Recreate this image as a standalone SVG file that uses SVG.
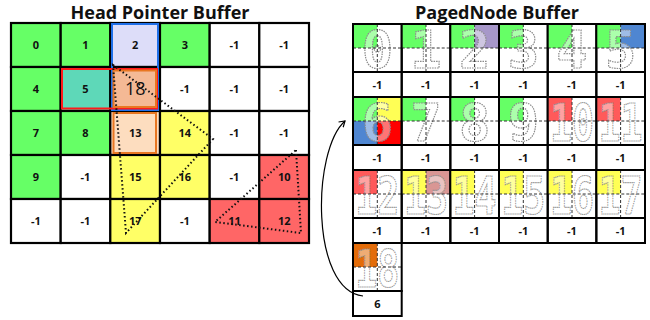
<svg xmlns="http://www.w3.org/2000/svg" width="650" height="320" viewBox="0 0 650 320">
<style>
.title{font-family:"Open Sans","Liberation Sans",sans-serif;font-weight:700;font-size:17px;text-anchor:middle;fill:#111}
.c{stroke:#000;stroke-width:2.2}
.n{font-family:"Open Sans","Liberation Sans",sans-serif;font-weight:700;font-size:11px;text-anchor:middle;fill:#111}
.n18{font-family:"Open Sans","Liberation Sans",sans-serif;font-size:18px;text-anchor:middle;fill:#111}
.w{fill:#fff}.g{fill:#66FF66}.y{fill:#FFFF66}.r{fill:#FF6666}
.big{font-family:"DejaVu Sans Mono","Liberation Mono",monospace;font-weight:700;font-size:52px;text-anchor:middle;fill:#fff;fill-opacity:0.45;stroke:#8c8c8c;stroke-width:1.2;stroke-dasharray:1.5 1}
.dash{fill:none;stroke:#333;stroke-width:1;stroke-dasharray:3 2}
.cell{fill:none;stroke:#000;stroke-width:2}
.dot{fill:none;stroke:#111;stroke-width:2;stroke-dasharray:1.5 2.5}
</style>
<defs>
<marker id="arr" markerUnits="userSpaceOnUse" markerWidth="10" markerHeight="10" refX="6" refY="4" orient="auto"><path d="M0.5,0.5 L6,4 L0.5,7.5" fill="none" stroke="#000" stroke-width="1.2"/></marker>
</defs>
<text class="title" x="160" y="19" textLength="179" lengthAdjust="spacingAndGlyphs">Head Pointer Buffer</text>
<text class="title" x="497" y="19" textLength="164" lengthAdjust="spacingAndGlyphs">PagedNode Buffer</text>

<g id="hp">
<g id="h0"><rect class="c g" x="11" y="23" width="49.7" height="44"/><text class="n" x="35.8" y="49">0</text></g>
<g id="h1"><rect class="c g" x="60.7" y="23" width="49.7" height="44"/><text class="n" x="85.5" y="49">1</text></g>
<g id="h2"><rect class="c" fill="#DDDDF9" x="110.3" y="23" width="49.7" height="44"/><text class="n" x="135.2" y="49">2</text></g>
<g id="h3"><rect class="c g" x="160" y="23" width="49.7" height="44"/><text class="n" x="184.8" y="49">3</text></g>
<g id="h4"><rect class="c w" x="209.7" y="23" width="49.7" height="44"/><text class="n" x="234.5" y="49">-1</text></g>
<g id="h5"><rect class="c w" x="259.3" y="23" width="49.7" height="44"/><text class="n" x="284.2" y="49">-1</text></g>

<g id="h6"><rect class="c g" x="11" y="67" width="49.7" height="44"/><text class="n" x="35.8" y="93">4</text></g>
<g id="h7"><rect class="c" fill="#5ED8B8" x="60.7" y="67" width="49.7" height="44"/><text class="n" x="85.5" y="93">5</text></g>
<g id="h8"><rect class="c" fill="#F4B995" x="110.3" y="67" width="49.7" height="44"/><text class="n18" x="135.2" y="95">18</text></g>
<g id="h9"><rect class="c w" x="160" y="67" width="49.7" height="44"/><text class="n" x="184.8" y="93">-1</text></g>
<g id="h10"><rect class="c w" x="209.7" y="67" width="49.7" height="44"/><text class="n" x="234.5" y="93">-1</text></g>
<g id="h11"><rect class="c w" x="259.3" y="67" width="49.7" height="44"/><text class="n" x="284.2" y="93">-1</text></g>

<g id="h12"><rect class="c g" x="11" y="111" width="49.7" height="44"/><text class="n" x="35.8" y="137">7</text></g>
<g id="h13"><rect class="c g" x="60.7" y="111" width="49.7" height="44"/><text class="n" x="85.5" y="137">8</text></g>
<g id="h14"><rect class="c" fill="#FDDDBF" x="110.3" y="111" width="49.7" height="44"/><text class="n" x="135.2" y="137">13</text></g>
<g id="h15"><rect class="c y" x="160" y="111" width="49.7" height="44"/><text class="n" x="184.8" y="137">14</text></g>
<g id="h16"><rect class="c w" x="209.7" y="111" width="49.7" height="44"/><text class="n" x="234.5" y="137">-1</text></g>
<g id="h17"><rect class="c w" x="259.3" y="111" width="49.7" height="44"/><text class="n" x="284.2" y="137">-1</text></g>

<g id="h18"><rect class="c g" x="11" y="155" width="49.7" height="44"/><text class="n" x="35.8" y="181">9</text></g>
<g id="h19"><rect class="c w" x="60.7" y="155" width="49.7" height="44"/><text class="n" x="85.5" y="181">-1</text></g>
<g id="h20"><rect class="c y" x="110.3" y="155" width="49.7" height="44"/><text class="n" x="135.2" y="181">15</text></g>
<g id="h21"><rect class="c y" x="160" y="155" width="49.7" height="44"/><text class="n" x="184.8" y="181">16</text></g>
<g id="h22"><rect class="c w" x="209.7" y="155" width="49.7" height="44"/><text class="n" x="234.5" y="181">-1</text></g>
<g id="h23"><rect class="c r" x="259.3" y="155" width="49.7" height="44"/><text class="n" x="284.2" y="181">10</text></g>

<g id="h24"><rect class="c w" x="11" y="199" width="49.7" height="44"/><text class="n" x="35.8" y="225">-1</text></g>
<g id="h25"><rect class="c w" x="60.7" y="199" width="49.7" height="44"/><text class="n" x="85.5" y="225">-1</text></g>
<g id="h26"><rect class="c y" x="110.3" y="199" width="49.7" height="44"/><text class="n" x="135.2" y="225">17</text></g>
<g id="h27"><rect class="c w" x="160" y="199" width="49.7" height="44"/><text class="n" x="184.8" y="225">-1</text></g>
<g id="h28"><rect class="c r" x="209.7" y="199" width="49.7" height="44"/><text class="n" x="234.5" y="225">11</text></g>
<g id="h29"><rect class="c r" x="259.3" y="199" width="49.7" height="44"/><text class="n" x="284.2" y="225">12</text></g>
</g>

<g id="highlights" fill="none">
<rect x="112" y="24" width="46" height="86" stroke="#1F6FE8" stroke-width="2"/>
<rect x="62" y="69" width="95" height="39.5" stroke="#FF1A1A" stroke-width="2"/>
<rect x="113.5" y="70.5" width="42.5" height="36.5" stroke="#E87722" stroke-width="2"/>
<rect x="113.5" y="113" width="42.5" height="40" stroke="#E87722" stroke-width="2"/>
</g>

<g id="triangles">
<polygon class="dot" points="113,65 213,139 126,233"/>
<polygon class="dot" points="296,150 301,233 215,222"/>
</g>

<g id="pn">
<g id="p0" transform="translate(353,24)"><rect class="g" width="24.3" height="24"/><text class="big" x="24.3" y="44">0</text><path class="dash" d="M24.3 0V48M0 24H48.7"/><rect class="cell" width="48.7" height="48"/><rect class="cell w" y="48" width="48.7" height="25"/><text class="n" x="24.3" y="64.5">-1</text></g>
<g id="p1" transform="translate(401.7,24)"><rect class="g" width="24.3" height="24"/><text class="big" x="24.3" y="44">1</text><path class="dash" d="M24.3 0V48M0 24H48.7"/><rect class="cell" width="48.7" height="48"/><rect class="cell w" y="48" width="48.7" height="25"/><text class="n" x="24.3" y="64.5">-1</text></g>
<g id="p2" transform="translate(450.3,24)"><rect class="g" width="24.3" height="24"/><rect fill="#A797C9" x="24.3" width="24.3" height="24"/><text class="big" x="24.3" y="44">2</text><path class="dash" d="M24.3 0V48M0 24H48.7"/><rect class="cell" width="48.7" height="48"/><rect class="cell w" y="48" width="48.7" height="25"/><text class="n" x="24.3" y="64.5">-1</text></g>
<g id="p3" transform="translate(499,24)"><rect class="g" width="24.3" height="24"/><text class="big" x="24.3" y="44">3</text><path class="dash" d="M24.3 0V48M0 24H48.7"/><rect class="cell" width="48.7" height="48"/><rect class="cell w" y="48" width="48.7" height="25"/><text class="n" x="24.3" y="64.5">-1</text></g>
<g id="p4" transform="translate(547.7,24)"><rect class="g" width="24.3" height="24"/><text class="big" x="24.3" y="44">4</text><path class="dash" d="M24.3 0V48M0 24H48.7"/><rect class="cell" width="48.7" height="48"/><rect class="cell w" y="48" width="48.7" height="25"/><text class="n" x="24.3" y="64.5">-1</text></g>
<g id="p5" transform="translate(596.3,24)"><rect class="g" width="24.3" height="24"/><rect fill="#4F86D1" x="24.3" width="24.3" height="24"/><text class="big" x="24.3" y="44">5</text><path class="dash" d="M24.3 0V48M0 24H48.7"/><rect class="cell" width="48.7" height="48"/><rect class="cell w" y="48" width="48.7" height="25"/><text class="n" x="24.3" y="64.5">-1</text></g>

<g id="p6" transform="translate(353,97)"><rect class="g" width="24.3" height="24"/><rect fill="#FFFF55" x="24.3" width="24.3" height="24"/><rect fill="#4F86D1" y="24" width="24.3" height="24"/><rect fill="#FF0000" x="24.3" y="24" width="24.3" height="24"/><text class="big" x="24.3" y="44">6</text><path class="dash" d="M24.3 0V48M0 24H48.7"/><rect class="cell" width="48.7" height="48"/><rect class="cell w" y="48" width="48.7" height="25"/><text class="n" x="24.3" y="64.5">-1</text></g>
<g id="p7" transform="translate(401.7,97)"><rect class="g" width="24.3" height="24"/><text class="big" x="24.3" y="44">7</text><path class="dash" d="M24.3 0V48M0 24H48.7"/><rect class="cell" width="48.7" height="48"/><rect class="cell w" y="48" width="48.7" height="25"/><text class="n" x="24.3" y="64.5">-1</text></g>
<g id="p8" transform="translate(450.3,97)"><rect class="g" width="24.3" height="24"/><text class="big" x="24.3" y="44">8</text><path class="dash" d="M24.3 0V48M0 24H48.7"/><rect class="cell" width="48.7" height="48"/><rect class="cell w" y="48" width="48.7" height="25"/><text class="n" x="24.3" y="64.5">-1</text></g>
<g id="p9" transform="translate(499,97)"><rect class="g" width="24.3" height="24"/><text class="big" x="24.3" y="44">9</text><path class="dash" d="M24.3 0V48M0 24H48.7"/><rect class="cell" width="48.7" height="48"/><rect class="cell w" y="48" width="48.7" height="25"/><text class="n" x="24.3" y="64.5">-1</text></g>
<g id="p10" transform="translate(547.7,97)"><rect fill="#FF5A5A" width="24.3" height="24"/><text class="big" x="24.3" y="44" textLength="44" lengthAdjust="spacingAndGlyphs">10</text><path class="dash" d="M24.3 0V48M0 24H48.7"/><rect class="cell" width="48.7" height="48"/><rect class="cell w" y="48" width="48.7" height="25"/><text class="n" x="24.3" y="64.5">-1</text></g>
<g id="p11" transform="translate(596.3,97)"><rect fill="#FF5A5A" width="24.3" height="24"/><text class="big" x="24.3" y="44" textLength="44" lengthAdjust="spacingAndGlyphs">11</text><path class="dash" d="M24.3 0V48M0 24H48.7"/><rect class="cell" width="48.7" height="48"/><rect class="cell w" y="48" width="48.7" height="25"/><text class="n" x="24.3" y="64.5">-1</text></g>

<g id="p12" transform="translate(353,170)"><rect fill="#FF5A5A" width="24.3" height="24"/><text class="big" x="24.3" y="44" textLength="44" lengthAdjust="spacingAndGlyphs">12</text><path class="dash" d="M24.3 0V48M0 24H48.7"/><rect class="cell" width="48.7" height="48"/><rect class="cell w" y="48" width="48.7" height="25"/><text class="n" x="24.3" y="64.5">-1</text></g>
<g id="p13" transform="translate(401.7,170)"><rect fill="#FFFF55" width="24.3" height="24"/><rect fill="#D99694" x="24.3" width="24.3" height="24"/><text class="big" x="24.3" y="44" textLength="44" lengthAdjust="spacingAndGlyphs">13</text><path class="dash" d="M24.3 0V48M0 24H48.7"/><rect class="cell" width="48.7" height="48"/><rect class="cell w" y="48" width="48.7" height="25"/><text class="n" x="24.3" y="64.5">-1</text></g>
<g id="p14" transform="translate(450.3,170)"><rect fill="#FFFF55" width="24.3" height="24"/><text class="big" x="24.3" y="44" textLength="44" lengthAdjust="spacingAndGlyphs">14</text><path class="dash" d="M24.3 0V48M0 24H48.7"/><rect class="cell" width="48.7" height="48"/><rect class="cell w" y="48" width="48.7" height="25"/><text class="n" x="24.3" y="64.5">-1</text></g>
<g id="p15" transform="translate(499,170)"><rect fill="#FFFF55" width="24.3" height="24"/><text class="big" x="24.3" y="44" textLength="44" lengthAdjust="spacingAndGlyphs">15</text><path class="dash" d="M24.3 0V48M0 24H48.7"/><rect class="cell" width="48.7" height="48"/><rect class="cell w" y="48" width="48.7" height="25"/><text class="n" x="24.3" y="64.5">-1</text></g>
<g id="p16" transform="translate(547.7,170)"><rect fill="#FFFF55" width="24.3" height="24"/><text class="big" x="24.3" y="44" textLength="44" lengthAdjust="spacingAndGlyphs">16</text><path class="dash" d="M24.3 0V48M0 24H48.7"/><rect class="cell" width="48.7" height="48"/><rect class="cell w" y="48" width="48.7" height="25"/><text class="n" x="24.3" y="64.5">-1</text></g>
<g id="p17" transform="translate(596.3,170)"><rect fill="#FFFF55" width="24.3" height="24"/><text class="big" x="24.3" y="44" textLength="44" lengthAdjust="spacingAndGlyphs">17</text><path class="dash" d="M24.3 0V48M0 24H48.7"/><rect class="cell" width="48.7" height="48"/><rect class="cell w" y="48" width="48.7" height="25"/><text class="n" x="24.3" y="64.5">-1</text></g>

<g id="p18" transform="translate(353,243)"><rect fill="#E36C09" width="24.3" height="24"/><text class="big" x="24.3" y="44" textLength="44" lengthAdjust="spacingAndGlyphs">18</text><path class="dash" d="M24.3 0V48M0 24H48.7"/><rect class="cell" width="48.7" height="48"/><rect class="cell w" y="48" width="48.7" height="25"/><text class="n" x="24.3" y="65">6</text></g>
</g>

<g id="connectors">
<path d="M363,296 C310,290 312,150 345,121" fill="none" stroke="#000" stroke-width="1.2" marker-end="url(#arr)"/>
</g>
</svg>
